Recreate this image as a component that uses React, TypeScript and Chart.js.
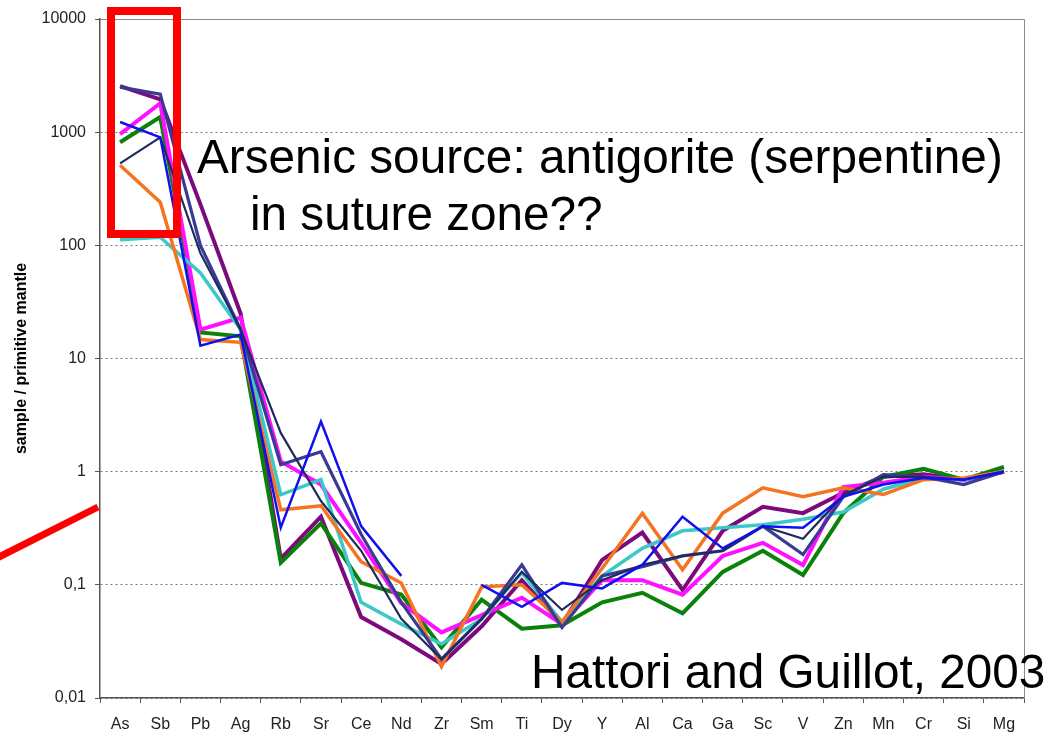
import React, { useEffect, useRef } from "react";
import { Chart, registerables } from "chart.js";

Chart.register(...registerables);

const categories = ["As", "Sb", "Pb", "Ag", "Rb", "Sr", "Ce", "Nd", "Zr", "Sm", "Ti", "Dy", "Y", "Al", "Ca", "Ga", "Sc", "V", "Zn", "Mn", "Cr", "Si", "Mg"];

const yTickValues = [0.01, 0.1, 1, 10, 100, 1000, 10000];
const yTickLabels = ["0,01", "0,1", "1", "10", "100", "1000", "10000"];

const purpleSeries = [2550, 1950, 230, 25, 0.17, 0.4, 0.052, 0.033, 0.02, 0.043, 0.11, 0.045, 0.166, 0.29, 0.09, 0.3, 0.49, 0.43, 0.65, 0.9, 0.95, 0.85, 1.0];
const slateSeries = [2500, 2170, 100, 18, 1.15, 1.5, 0.28, 0.07, 0.022, 0.05, 0.15, 0.042, 0.12, 0.145, 0.18, 0.2, 0.33, 0.185, 0.6, 0.94, 0.9, 0.77, 1.0];
const navySeries = [530, 900, 85, 18, 2.2, 0.55, 0.2, 0.05, 0.022, 0.05, 0.13, 0.06, 0.11, 0.15, 0.18, 0.2, 0.33, 0.255, 0.62, 0.9, 0.9, 0.85, 1.0];
const magentaSeries = [960, 1800, 18, 23, 1.23, 0.77, 0.235, 0.069, 0.038, 0.054, 0.077, 0.045, 0.11, 0.11, 0.082, 0.18, 0.235, 0.15, 0.73, 0.8, 0.9, 0.85, 1.0];
const greenSeries = [815, 1360, 17, 15.7, 0.157, 0.35, 0.104, 0.082, 0.028, 0.074, 0.041, 0.044, 0.07, 0.085, 0.056, 0.13, 0.2, 0.122, 0.43, 0.9, 1.06, 0.85, 1.1];
const blueSeries = [1230, 900, 13, 16.3, 0.32, 2.77, 0.33, 0.12, null, 0.1, 0.064, 0.104, 0.093, 0.15, 0.4, 0.21, 0.33, 0.32, 0.6, 0.77, 0.88, 0.85, 1.0];
const orangeSeries = [510, 240, 14.7, 13.9, 0.46, 0.5, 0.16, 0.104, 0.019, 0.096, 0.1, 0.047, 0.14, 0.43, 0.136, 0.43, 0.72, 0.6, 0.72, 0.63, 0.85, 0.88, 1.0];
const cyanSeries = [112, 118, 57, 18, 0.625, 0.85, 0.07, 0.045, 0.03, 0.05, 0.128, 0.047, 0.12, 0.21, 0.3, 0.32, 0.34, 0.38, 0.44, 0.7, 0.88, 0.85, 1.0];

const FONT = "'Liberation Sans', Arial, Helvetica, sans-serif";

const overlayPlugin = {
  id: "overlayPlugin",
  afterDraw(chart: any) {
    const { ctx, chartArea } = chart;
    ctx.save();
    // plot frame (top and right)
    ctx.strokeStyle = "#8a8a8a";
    ctx.lineWidth = 1;
    ctx.beginPath();
    ctx.moveTo(chartArea.left, chartArea.top + 0.5);
    ctx.lineTo(chartArea.right + 0.5, chartArea.top + 0.5);
    ctx.lineTo(chartArea.right + 0.5, chartArea.bottom);
    ctx.stroke();

    // annotation texts
    ctx.fillStyle = "#000";
    ctx.font = `47.7px ${FONT}`;
    ctx.textBaseline = "alphabetic";
    ctx.textAlign = "left";
    ctx.fillText("Arsenic source: antigorite (serpentine)", 197, 173);
    ctx.fillText("in suture zone??", 250, 230);
    ctx.fillText("Hattori and Guillot, 2003", 531, 688);

    // red highlight box and pointer line
    ctx.strokeStyle = "#ff0000";
    ctx.lineWidth = 8;
    ctx.strokeRect(111, 11, 66, 223);
    ctx.lineWidth = 7;
    ctx.beginPath();
    ctx.moveTo(-5, 559);
    ctx.lineTo(98, 507);
    ctx.stroke();
    ctx.restore();
  },
};

function ds(label: string, data: (number | null)[], color: string, width: number) {
  return {
    label,
    data,
    borderColor: color,
    backgroundColor: color,
    borderWidth: width,
    pointRadius: 0,
    pointHoverRadius: 0,
    tension: 0,
    spanGaps: false,
    fill: false,
  };
}

export default function App() {
  const canvasRef = useRef<HTMLCanvasElement | null>(null);

  useEffect(() => {
    document.body.style.margin = "0";
    const canvas = canvasRef.current;
    if (!canvas) return;
    const chart = new Chart(canvas, {
      type: "line",
      data: {
        labels: categories,
        datasets: [
          ds("blue", blueSeries, "#1010ee", 2.5),
          ds("navy", navySeries, "#1c2c5c", 2.2),
          ds("slate", slateSeries, "#3a3a94", 3.2),
          ds("orange", orangeSeries, "#f47421", 3.5),
          ds("cyan", cyanSeries, "#3cc8c8", 3.5),
          ds("magenta", magentaSeries, "#ff10ff", 4),
          ds("green", greenSeries, "#0a820a", 4),
          ds("purple", purpleSeries, "#7c0a7c", 4),
        ],
      },
      options: {
        responsive: false,
        animation: false,
        devicePixelRatio: 1,
        layout: { padding: { top: 19, right: 25, left: 0, bottom: 0 } },
        plugins: {
          legend: { display: false },
          tooltip: { enabled: false },
          title: { display: false },
        },
        scales: {
          x: {
            type: "category",
            offset: true,
            afterFit: (s: any) => {
              s.height = 41;
            },
            grid: {
              offset: true,
              drawOnChartArea: false,
              drawTicks: true,
              tickLength: 5,
              tickColor: "#555",
              tickWidth: 1,
            },
            border: { display: true, color: "#555", width: 1.5 },
            ticks: {
              autoSkip: false,
              maxRotation: 0,
              padding: 12,
              color: "#222",
              font: { family: FONT, size: 16 },
            },
          },
          y: {
            type: "logarithmic",
            min: 0.01,
            max: 10000,
            afterBuildTicks: (s: any) => {
              s.ticks = yTickValues.map((v) => ({ value: v }));
            },
            afterFit: (s: any) => {
              s.width = 100;
            },
            grid: {
              color: "#777",
              lineWidth: 1,
              drawOnChartArea: true,
              drawTicks: true,
              tickLength: 5,
              tickColor: "#555",
              tickWidth: 1,
              tickBorderDash: [],
            },
            border: { display: true, color: "#555", width: 1.5, dash: [2, 3] },
            ticks: {
              autoSkip: false,
              padding: 9,
              color: "#222",
              font: { family: FONT, size: 16 },
              callback: (v: any) => {
                const i = yTickValues.indexOf(Number(v));
                return i >= 0 ? yTickLabels[i] : "";
              },
            },
            title: {
              display: true,
              text: "sample / primitive mantle",
              color: "#000",
              font: { family: FONT, size: 16, weight: "bold" },
              padding: { top: 12, bottom: 0 },
            },
          },
        },
      },
      plugins: [overlayPlugin],
    });
    return () => chart.destroy();
  }, []);

  return (
    <div style={{ position: "fixed", left: 0, top: 0, width: 1049, height: 739, background: "#fff" }}>
      <canvas ref={canvasRef} width={1049} height={739} style={{ display: "block", width: 1049, height: 739 }} />
    </div>
  );
}
